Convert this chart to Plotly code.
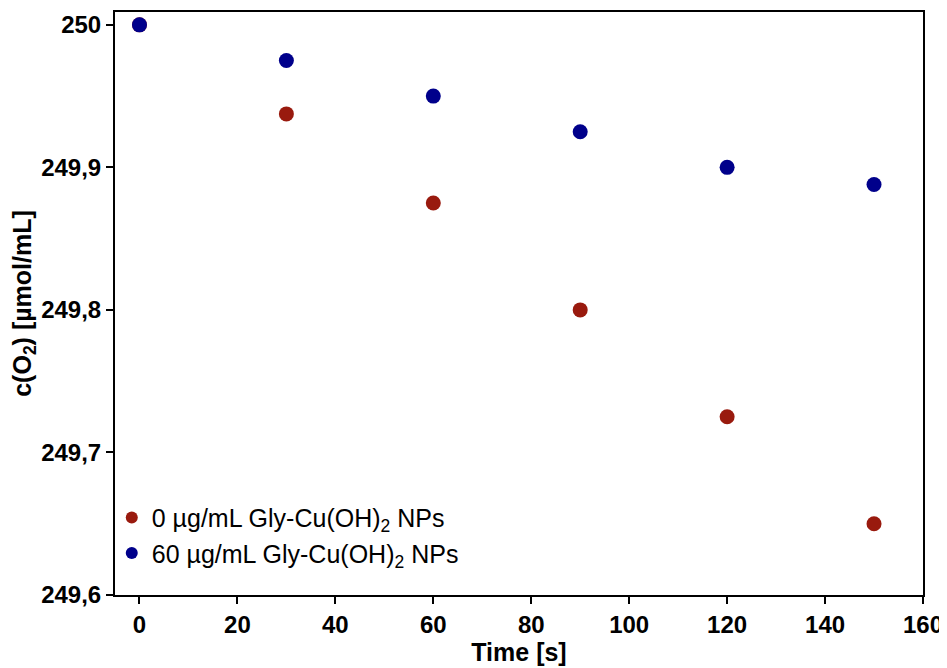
import plotly.graph_objects as go

time_s = [0, 30, 60, 90, 120, 150]
c_o2_0 = [250.0, 249.9375, 249.875, 249.80, 249.725, 249.65]
c_o2_60 = [250.0, 249.975, 249.950, 249.925, 249.900, 249.888]
series_names = ["0 µg/mL Gly-Cu(OH)<sub>2</sub> NPs", "60 µg/mL Gly-Cu(OH)<sub>2</sub> NPs"]
x_ticks = [0, 20, 40, 60, 80, 100, 120, 140, 160]
y_ticks = [249.6, 249.7, 249.8, 249.9, 250.0]
y_ticklabels = ["249,6", "249,7", "249,8", "249,9", "250"]

red = "#991a0e"
blue = "#00008b"
fam = "Liberation Sans, Arial, sans-serif"

fig = go.Figure()
fig.add_trace(go.Scatter(x=time_s, y=c_o2_0, mode="markers", name=series_names[0],
                         marker=dict(color=red, size=15)))
fig.add_trace(go.Scatter(x=time_s, y=c_o2_60, mode="markers", name=series_names[1],
                         marker=dict(color=blue, size=15)))

fig.update_layout(
    width=939, height=660,
    margin=dict(l=107, r=24, t=4, b=73),
    plot_bgcolor="white", paper_bgcolor="white",
    font=dict(family=fam, color="black"),
    showlegend=True,
    legend=dict(x=-0.004, xanchor="left", y=0.172, yanchor="top",
                bgcolor="rgba(0,0,0,0)", font=dict(size=25, family=fam, color="black"),
                itemsizing="constant", tracegroupgap=0, itemwidth=30),
    xaxis=dict(range=[-5, 160], tickvals=x_ticks, ticktext=["<b>%d</b>" % v for v in x_ticks],
               ticks="outside", ticklen=7, tickwidth=2,
               tickcolor="black", showline=True, linewidth=2, linecolor="black", mirror=True,
               showgrid=False, zeroline=False, automargin=False,
               tickfont=dict(size=24, family=fam, color="black"),
               title=dict(text="<b>Time [s]</b>", font=dict(size=25, family=fam, color="black"), standoff=5)),
    yaxis=dict(range=[249.6, 250.009], tickvals=y_ticks, ticktext=["<b>%s</b>" % t for t in y_ticklabels],
               ticks="outside", ticklen=7, tickwidth=2, tickcolor="black",
               showline=True, linewidth=2, linecolor="black", mirror=True,
               showgrid=False, zeroline=False, automargin=False,
               tickfont=dict(size=24, family=fam, color="black"),
               title=dict(text="<b>c(O<sub>2</sub>) [µmol/mL]</b>", font=dict(family=fam, size=25, color="black"), standoff=10)),
)

fig.write_html("out.html")
